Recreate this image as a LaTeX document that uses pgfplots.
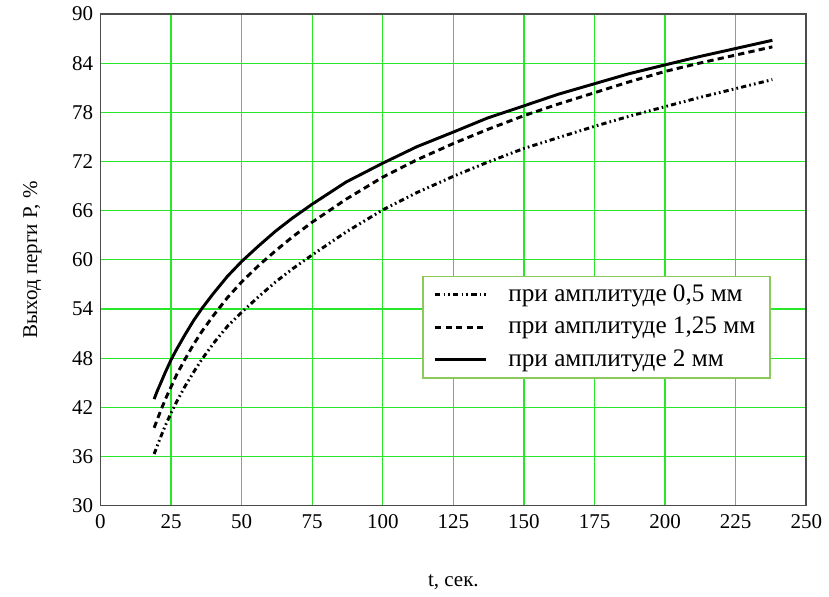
\documentclass[border=0pt]{standalone}
\usepackage{fontspec}
\setmainfont{Liberation Serif}
\usepackage{pgfplots}
\pgfplotsset{compat=1.18}
\definecolor{gridgreen}{RGB}{40,230,40}
\definecolor{legborder}{RGB}{140,200,90}

\begin{document}
\begin{tikzpicture}
    \begin{axis}[
        scale only axis,
        width=336pt, height=234pt,
        xmin=0, xmax=250,
        ymin=30, ymax=90,
        xtick={0,25,...,250},
        ytick={30,36,...,90},
        grid=major,
        major grid style={gridgreen, line width=0.6pt},
        axis line style={black!70, line width=0.8pt},
        tick style={draw=none},
        /pgf/number format/assume math mode=true,
        ticklabel style={font=\normalsize},
        xticklabel style={text height=1.6ex, text depth=0pt},
        xlabel={t, сек.},
        ylabel={Выход перги P, \%},
        xlabel style={yshift=-15pt},
        ylabel style={inner ysep=11pt},
        legend cell align=left,
        legend style={
            at={(0.456,0.258)}, anchor=south west,
            draw=legborder, line width=0.8pt,
            font=\large,
            row sep=2pt,
            inner xsep=5pt, inner ysep=2pt,
            /tikz/every odd column/.append style={column sep=8pt},
        },
        legend image code/.code={
            \draw[#1, line width=1.4pt] (0cm,0cm) -- (0.85cm,0cm);
        },
        every axis plot/.append style={black, line width=1.4pt},
    ]
        % 0.5 mm
        \addplot[dash pattern=on 2.5pt off 1.5pt on 0.8pt off 1.5pt on 0.8pt off 1.5pt]
            coordinates {
                (19,36.3) (20,37.2) (21,38.1) (23,39.8) (25,41.3) (27,42.7)
                (30,44.6) (33,46.3) (36,47.9) (40,49.8) (45,51.9)
                (50,53.6) (56,55.5) (62,57.3) (68,58.9) (75,60.6) (87,63.4)
                (100,66.1) (112,68.2) (125,70.2) (137,71.9) (150,73.6)
                (162,74.9) (175,76.3) (187,77.5) (200,78.7) (212,79.8)
                (225,80.9) (238,82.0)
            };
        \addlegendentry{при амплитуде 0,5 мм}
        % 1.25 mm
        \addplot[dash pattern=on 3pt off 2pt]
            coordinates {
                (19,39.5) (20,40.4) (21,41.3) (23,43.0) (25,44.5) (27,46.0)
                (30,47.9) (33,49.7) (36,51.3) (40,53.2) (45,55.4)
                (50,57.3) (56,59.3) (62,61.1) (68,62.8) (75,64.6) (87,67.4)
                (100,70.1) (112,72.2) (125,74.2) (137,75.9) (150,77.6)
                (162,79.0) (175,80.4) (187,81.7) (200,83.0) (212,84.0)
                (225,85.0) (238,86.0)
            };
        \addlegendentry{при амплитуде 1,25 мм}
        % 2 mm
        \addplot[solid]
            coordinates {
                (19,43.0) (20,43.9) (21,44.7) (23,46.3) (25,47.8) (27,49.1)
                (30,50.9) (33,52.6) (36,54.1) (40,55.9) (45,58.0)
                (50,59.8) (56,61.7) (62,63.5) (68,65.1) (75,66.8) (87,69.5)
                (100,71.8) (112,73.8) (125,75.6) (137,77.3) (150,78.8)
                (162,80.2) (175,81.5) (187,82.7) (200,83.8) (212,84.8)
                (225,85.8) (238,86.8)
            };
        \addlegendentry{при амплитуде 2 мм}
    \end{axis}
\end{tikzpicture}
\end{document}
